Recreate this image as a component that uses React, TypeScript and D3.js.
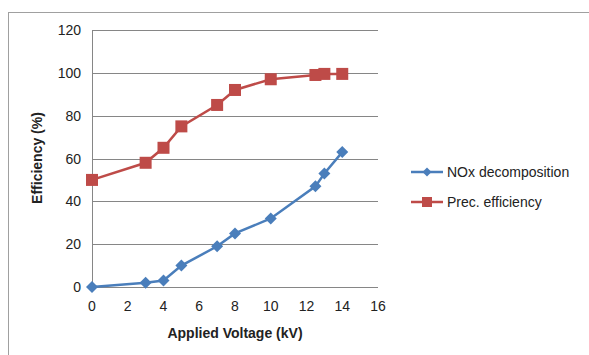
import React from 'react';
import * as d3 from 'd3';

const voltage = [0, 3, 4, 5, 7, 8, 10, 12.5, 13, 14];
const noxDecomposition = [0, 2, 3, 10, 19, 25, 32, 47, 53, 63];
const precEfficiency = [50, 58, 65, 75, 85, 92, 97, 99, 99.5, 99.5];
const xTicks = [0, 2, 4, 6, 8, 10, 12, 14, 16];
const yTicks = [0, 20, 40, 60, 80, 100, 120];
const seriesNames = ['NOx decomposition', 'Prec. efficiency'];

const W = 589;
const H = 355;
const font = '"Liberation Sans", Arial, sans-serif';

export default function App() {
    // plot area
    const x = d3.scaleLinear().domain([0, 16]).range([92, 378]);
    const y = d3.scaleLinear().domain([0, 120]).range([287, 30]);

    const line = d3.line<number>()
        .x((d, i) => x(voltage[i]))
        .y((d) => y(d));

    const blue = '#4a7ebb';
    const red = '#be4b48';

    const diamond = (cx: number, cy: number, r: number) =>
        `M${cx},${cy - r}L${cx + r},${cy}L${cx},${cy + r}L${cx - r},${cy}Z`;

    return (
        <svg width={W} height={H} style={{ position: 'absolute', left: 0, top: 0 }}>
            <rect x={0} y={0} width={W} height={H} fill="#fff" />
            <rect x={8.5} y={12.5} width={700} height={500} fill="none" stroke="#a0a0a0" />
            {/* grid */}
            {yTicks.map((t) => (
                <line key={t} x1={x(0)} x2={x(16)} y1={Math.round(y(t)) + 0.5} y2={Math.round(y(t)) + 0.5}
                    stroke="#868686" strokeWidth={1} />
            ))}
            <line x1={x(0) + 0.5} x2={x(0) + 0.5} y1={y(120)} y2={y(0)} stroke="#868686" />
            {yTicks.map((t) => (
                <text key={t} x={x(0) - 11} y={y(t) + 5} textAnchor="end" fontFamily={font} fontSize={14} fill="#222">{t}</text>
            ))}
            {xTicks.map((t) => (
                <text key={t} x={x(t)} y={y(0) + 24} textAnchor="middle" fontFamily={font} fontSize={14} fill="#222">{t}</text>
            ))}
            <text x={235} y={338} textAnchor="middle" fontFamily={font} fontSize={14} fontWeight="bold" fill="#222">Applied Voltage (kV)</text>
            <text transform="translate(42,158) rotate(-90)" textAnchor="middle" fontFamily={font} fontSize={14} fontWeight="bold" fill="#222">Efficiency (%)</text>

            {/* series */}
            <path d={line(precEfficiency) || ''} fill="none" stroke={red} strokeWidth={2.5} />
            {precEfficiency.map((v, i) => (
                <rect key={i} x={x(voltage[i]) - 6} y={y(v) - 6} width={12} height={12} fill={red} />
            ))}
            <path d={line(noxDecomposition) || ''} fill="none" stroke={blue} strokeWidth={2.5} />
            {noxDecomposition.map((v, i) => (
                <path key={i} d={diamond(x(voltage[i]), y(v), 6)} fill={blue} />
            ))}

            {/* legend */}
            <line x1={411} x2={443} y1={172} y2={172} stroke={blue} strokeWidth={2.5} />
            <path d={diamond(427, 172, 4.5)} fill={blue} />
            <text x={447} y={177} fontFamily={font} fontSize={14} fill="#222">{seriesNames[0]}</text>
            <line x1={411} x2={443} y1={202} y2={202} stroke={red} strokeWidth={2.5} />
            <rect x={422} y={197} width={10} height={10} fill={red} />
            <text x={447} y={207} fontFamily={font} fontSize={14} fill="#222">{seriesNames[1]}</text>
        </svg>
    );
}
